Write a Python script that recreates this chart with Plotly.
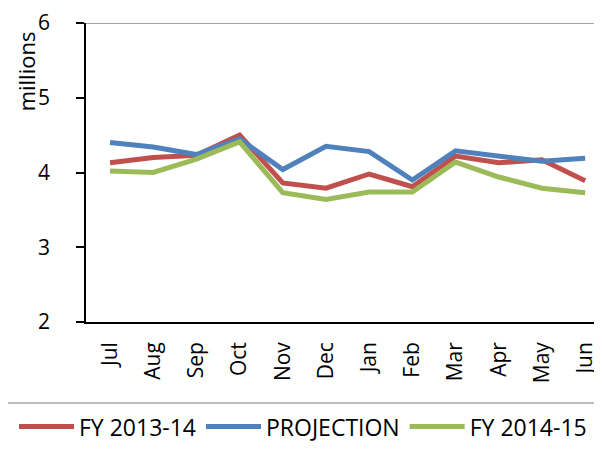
import plotly.graph_objects as go

months = ["Jul", "Aug", "Sep", "Oct", "Nov", "Dec", "Jan", "Feb", "Mar", "Apr", "May", "Jun"]
fy_2013_14 = [4.13, 4.20, 4.23, 4.50, 3.86, 3.79, 3.98, 3.81, 4.22, 4.13, 4.17, 3.89]
projection = [4.40, 4.34, 4.24, 4.45, 4.04, 4.35, 4.28, 3.90, 4.29, 4.22, 4.15, 4.19]
fy_2014_15 = [4.02, 4.00, 4.18, 4.41, 3.73, 3.64, 3.74, 3.74, 4.14, 3.94, 3.79, 3.73]

series = [
    ("FY 2013-14", fy_2013_14, "#C0504D"),
    ("PROJECTION", projection, "#4F81BD"),
    ("FY 2014-15", fy_2014_15, "#9BBB59"),
]

FAM = "Open Sans, Noto Sans, sans-serif"

fig = go.Figure()
for name, vals, color in series:
    fig.add_trace(go.Scatter(x=list(range(len(months))), y=vals, name=name, mode="lines",
                             line=dict(color=color, width=5)))

tickfont = dict(family=FAM, size=21, color="#000000")

W, H = 594, 443
L, T, B = 78, 11, 129
PW, PH = W - L, H - T - B

fig.update_layout(
    width=W, height=H,
    margin=dict(l=L, r=0, t=T, b=B, pad=0),
    paper_bgcolor="white", plot_bgcolor="white",
    font=tickfont,
    showlegend=True,
    legend=dict(orientation="h", x=(6 - L) / PW, xanchor="left", y=(PH - 420 + T) / PH, yanchor="middle",
                font=dict(family=FAM, size=23, color="#000"),
                bgcolor="rgba(0,0,0,0)", itemwidth=55, tracegroupgap=0),
    xaxis=dict(range=[-0.556, 11.39], tickmode="array", tickvals=list(range(len(months))),
               ticktext=months, tickangle=-90, showgrid=False, zeroline=False,
               showline=True, linecolor="#000", linewidth=1.5, ticks="",
               ticklabelstandoff=10, tickfont=tickfont),
    yaxis=dict(range=[2, 6], tickvals=[2, 3, 4, 5, 6], showgrid=False, zeroline=False,
               showline=True, linecolor="#000", linewidth=1.5, ticks="outside",
               ticklen=8, tickcolor="#000", tickwidth=1.5, ticklabelstandoff=22, tickfont=tickfont,
               ticklabeloverflow="allow"),
    shapes=[
        dict(type="line", xref="paper", yref="y", x0=0, x1=1, y0=6, y1=6,
             line=dict(color="#A6A6A6", width=2)),
        dict(type="rect", xref="paper", yref="paper", x0=-1 / PW - L / PW, x1=1.02,
             y0=-0.5, y1=(PH - 396 + T) / PH,
             line=dict(color="#A6A6A6", width=1.5), fillcolor="rgba(0,0,0,0)"),
    ],
    annotations=[
        dict(text="millions", xref="paper", yref="paper", x=(18 - L) / PW, y=(PH - 60 + T) / PH,
             textangle=-90, showarrow=False, xanchor="center", yanchor="middle",
             font=dict(family=FAM, size=22, color="#000")),
    ],
)

fig.write_html("out.html")
